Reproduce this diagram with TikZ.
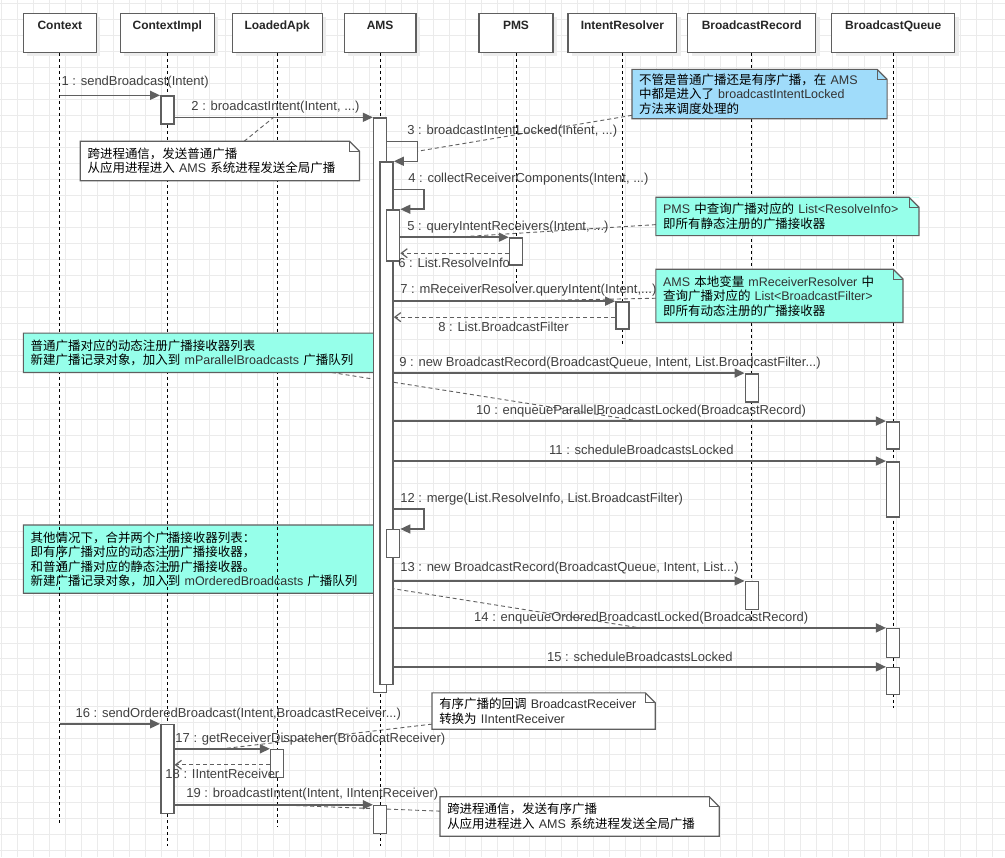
\documentclass[tikz,border=0pt]{standalone}
\usepackage{fontspec}
\setmainfont{Liberation Sans}
\newfontfamily\cjk{Noto Sans CJK SC}
\usetikzlibrary{arrows.meta,shadows}
\definecolor{linec}{HTML}{5F5F5F}
\definecolor{lblc}{HTML}{404040}
\definecolor{gridc}{HTML}{EBEBEB}
\definecolor{notecyan}{RGB}{150,255,234}
\definecolor{noteblue}{RGB}{160,220,250}
\pgfdeclarelayer{gridlayer}
\pgfdeclarelayer{linklayer}
\pgfsetlayers{gridlayer,linklayer,main}
% latin words inside a note
\newcommand{\lat}[1]{{\rmfamily\color{black!80}#1}}
% outline of a note with its folded corner
\newcommand{\notefold}[1]{%
  \fill[white] ([xshift=-10pt]#1.north east) -- (#1.north east) -- ([yshift=-10pt]#1.north east) -- cycle;
  \draw[linec, line width=1.2pt] (#1.north west) -- ([xshift=-10pt]#1.north east) -- ([yshift=-10pt]#1.north east) -- (#1.south east) -- (#1.south west) -- cycle;
  \draw[linec, line width=1pt] ([xshift=-10pt]#1.north east) |- ([yshift=-10pt]#1.north east);
}
\begin{document}
\begin{tikzpicture}[x=1pt, y=-1pt, font=\fontsize{13}{15}\selectfont,
    head/.style={draw=linec, line width=1.2pt, fill=white, minimum height=39pt, inner sep=0pt,
      text height=16.5pt, text depth=22.5pt, text=black!85, font=\fontsize{12}{14}\selectfont\bfseries,
      drop shadow={shadow xshift=4pt, shadow yshift=-4pt, fill=black!7, opacity=1}},
    life/.style={draw=black, line width=0.8pt, dash pattern=on 3pt off 3pt},
    act/.style={draw=linec, fill=white, line width=1.5pt, minimum width=13pt, inner sep=0pt, anchor=north},
    msg/.style={draw=linec, line width=1.5pt, -{Triangle[length=10pt,width=9pt]}},
    ret/.style={draw=linec, line width=1.2pt, dash pattern=on 4pt off 3pt, -{Straight Barb[length=6pt,width=9pt]}},
    link/.style={draw=linec, line width=0.9pt, dash pattern=on 4pt off 3pt},
    lbl/.style={anchor=west, inner sep=0pt, text=lblc},
    memo/.style={fill=#1, anchor=north west, inner xsep=7pt, inner ysep=0pt, align=left,
      font=\cjk\fontsize{12.5}{14.5}\selectfont},
    memo/.default=white]
  \begin{pgfonlayer}{gridlayer}
    \fill[white] (0,0) rectangle (1005,857);
    \foreach \gx in {1,17,...,1005} \draw[gridc, line width=0.8pt] (\gx,0) -- (\gx,857);
    \foreach \gy in {3,19,...,857} \draw[gridc, line width=0.8pt] (0,\gy) -- (1005,\gy);
  \end{pgfonlayer}
  \useasboundingbox (0,0) rectangle (1005,857);

  % lifeline heads
  \node[head, minimum width=73pt] (ctx) at (59.5,32.5) {Context};
  \node[head, minimum width=94pt] (impl) at (167,32.5) {ContextImpl};
  \node[head, minimum width=90pt] (apk) at (277,32.5) {LoadedApk};
  \node[head, minimum width=72pt] (ams) at (380,32.5) {AMS};
  \node[head, minimum width=74pt] (pms) at (516,32.5) {PMS};
  \node[head, minimum width=109pt] (res) at (622.5,32.5) {IntentResolver};
  \node[head, minimum width=128pt] (rec) at (752,32.5) {BroadcastRecord};
  \node[head, minimum width=123pt] (que) at (893.5,32.5) {BroadcastQueue};

  \node[memo=notecyan, text width=353pt, minimum height=68pt] (nOrdered) at (23,525)
    {其他情况下，合并两个广播接收器列表：\\即有序广播对应的动态注册广播接收器，\\和普通广播对应的静态注册广播接收器。\\新建广播记录对象，加入到\lat{~mOrderedBroadcasts~}广播队列};
  \notefold{nOrdered}

  \foreach \ln/\lend in {ctx/823, impl/846, apk/827, ams/846, pms/283, res/345, rec/622, que/708}
    \draw[life] (\ln.south) -- (\ln.south |- 0,\lend);

  % notes
  \node[memo, text width=265pt, minimum height=39pt] (nIpcA) at (80,141)
    {跨进程通信，发送普通广播\\从应用进程进入\lat{~AMS~}系统进程发送全局广播};
  \notefold{nIpcA}
  \node[memo=noteblue, text width=241pt, minimum height=49pt] (nBlue) at (632,69)
    {不管是普通广播还是有序广播，在\lat{~AMS}\\中都是进入了\lat{~broadcastIntentLocked}\\方法来调度处理的};
  \notefold{nBlue}
  \node[memo=notecyan, text width=249pt, minimum height=38pt] (nPms) at (656,197)
    {\lat{PMS~}中查询广播对应的\lat{~List<ResolveInfo>}\\即所有静态注册的广播接收器};
  \notefold{nPms}
  \node[memo=notecyan, text width=233pt, minimum height=53pt] (nResolver) at (656,269)
    {\lat{AMS~}本地变量\lat{~mReceiverResolver~}中\\查询广播对应的\lat{~List<BroadcastFilter>}\\即所有动态注册的广播接收器};
  \notefold{nResolver}
  \node[memo=notecyan, text width=353pt, minimum height=39pt] (nParallel) at (23,333)
    {普通广播对应的动态注册广播接收器列表\\新建广播记录对象，加入到\lat{~mParallelBroadcasts~}广播队列};
  \notefold{nParallel}
  \node[memo, text width=209pt, minimum height=36pt] (nCallback) at (432,693)
    {有序广播的回调\lat{~BroadcastReceiver}\\转换为\lat{~IIntentReceiver}};
  \notefold{nCallback}
  \node[memo, text width=265pt, minimum height=39pt] (nIpcB) at (440,797)
    {跨进程通信，发送有序广播\\从应用进程进入\lat{~AMS~}系统进程发送全局广播};
  \notefold{nIpcB}

  % activations
  \node[act, minimum height=28pt] (a1) at (167,95) {};
  \node[act, minimum height=575pt] (am1) at (380,117) {};
  \node[act, minimum height=523pt] (am2) at (386.5,161) {};
  \node[act, minimum height=51pt] (am3) at (393,209) {};
  \node[act, minimum height=27pt] (p1) at (516,237) {};
  \node[act, minimum height=27pt] (r1) at (622.5,301) {};
  \node[act, minimum height=28pt] (br1) at (752,373) {};
  \node[act, minimum height=27pt] (q1) at (893.5,421) {};
  \node[act, minimum height=55pt] (q2) at (893.5,461) {};
  \node[act, minimum height=28pt] (am4) at (393,529) {};
  \node[act, minimum height=28pt] (br2) at (752,581) {};
  \node[act, minimum height=29pt] (q3) at (893.5,628) {};
  \node[act, minimum height=27pt] (q4) at (893.5,667) {};
  \node[act, minimum height=89pt] (a2) at (167,724) {};
  \node[act, minimum height=28pt] (l1) at (277,749) {};
  \node[act, minimum height=28pt] (am5) at (380,805) {};

  % messages
  \draw[msg] (ctx.south |- a1.north) -- (a1.north west);
  \draw[msg] (a1.east |- am1.north) -- coordinate (m2) (am1.north west);
  \draw[msg] (am1.east |- 0,141) -- ++(30,0) |- coordinate[pos=0.25] (m3) (am2.north east);
  \draw[msg] (am2.east |- 0,189) -- ++(30,0) |- (am3.north east);
  \draw[msg] (am3.east |- p1.north) -- coordinate (m5) (p1.north west);
  \draw[ret] (p1.west |- 0,253) -- (am3.east |- 0,253);
  \draw[msg] (am2.east |- r1.north) -- coordinate (m7) (r1.north west);
  \draw[ret] (r1.west |- 0,317) -- (am2.east |- 0,317);
  \draw[msg] (am2.east |- br1.north) -- (br1.north west);
  \draw[msg] (am2.east |- q1.north) -- coordinate (m10) (q1.north west);
  \draw[msg] (am2.east |- q2.north) -- (q2.north west);
  \draw[msg] (am2.east |- 0,509) -- ++(30,0) |- (am4.north east);
  \draw[msg] (am2.east |- br2.north) -- (br2.north west);
  \draw[msg] (am2.east |- q3.north) -- coordinate (m14) (q3.north west);
  \draw[msg] (am2.east |- q4.north) -- (q4.north west);
  \draw[msg] (ctx.south |- a2.north) -- (a2.north west);
  \draw[msg] (a2.east |- l1.north) -- coordinate (m17) (l1.north west);
  \draw[ret] (l1.west |- 0,765) -- (a2.east |- 0,765);
  \draw[msg] (a2.east |- am5.north) -- coordinate (m19) (am5.north west);

  % message labels
  \node[lbl] (t1) at (61,82) {1 : sendBroadcast(Intent)};
  \node[lbl] (t2) at (191,107) {2 : broadcastIntent(Intent, ...)};
  \node[lbl] (t3) at (407,131) {3 : broadcastIntentLocked(Intent, ...)};
  \node[lbl] (t4) at (408,179) {4 : collectReceiverComponents(Intent, ...)};
  \node[lbl] (t5) at (407,227) {5 : queryIntentReceivers(Intent, ...)};
  \node[lbl] (t6) at (398,263) {6 : List.ResolveInfo};
  \node[lbl] (t7) at (400,290) {7 : mReceiverResolver.queryIntent(Intent,...)};
  \node[lbl] (t8) at (438,327) {8 : List.BroadcastFilter};
  \node[lbl] (t9) at (399,363) {9 : new BroadcastRecord(BroadcastQueue, Intent, List.BroadcastFilter...)};
  \node[lbl] (t10) at (476,411) {10 : enqueueParallelBroadcastLocked(BroadcastRecord)};
  \node[lbl] (t11) at (549,450) {11 : scheduleBroadcastsLocked};
  \node[lbl] (t12) at (400,499) {12 : merge(List.ResolveInfo, List.BroadcastFilter)};
  \node[lbl] (t13) at (400,568) {13 : new BroadcastRecord(BroadcastQueue, Intent, List...)};
  \node[lbl] (t14) at (474,618) {14 : enqueueOrderedBroadcastLocked(BroadcastRecord)};
  \node[lbl] (t15) at (547,657) {15 : scheduleBroadcastsLocked};
  \node[lbl] (t16) at (75,714) {16 : sendOrderedBroadcast(Intent,BroadcastReceiver...)};
  \node[lbl] (t17) at (175,739) {17 : getReceiverDispatcher(BroadcatReceiver)};
  \node[lbl] (t18) at (165,774) {18 : IIntentReceiver};
  \node[lbl] (t19) at (186,794) {19 : broadcastIntent(Intent, IIntentReceiver)};

  % note links
  \begin{pgfonlayer}{linklayer}
    \draw[link] (nIpcA) -- (m2);
    \draw[link] (nBlue) -- (m3);
    \draw[link] (nPms) -- (m5);
    \draw[link] (nResolver) -- (m7);
    \draw[link] (nParallel) -- (m10);
    \draw[link] (nOrdered) -- (m14);
    \draw[link] (nCallback) -- (m17);
    \draw[link] (nIpcB) -- (m19);
  \end{pgfonlayer}
\end{tikzpicture}
\end{document}
